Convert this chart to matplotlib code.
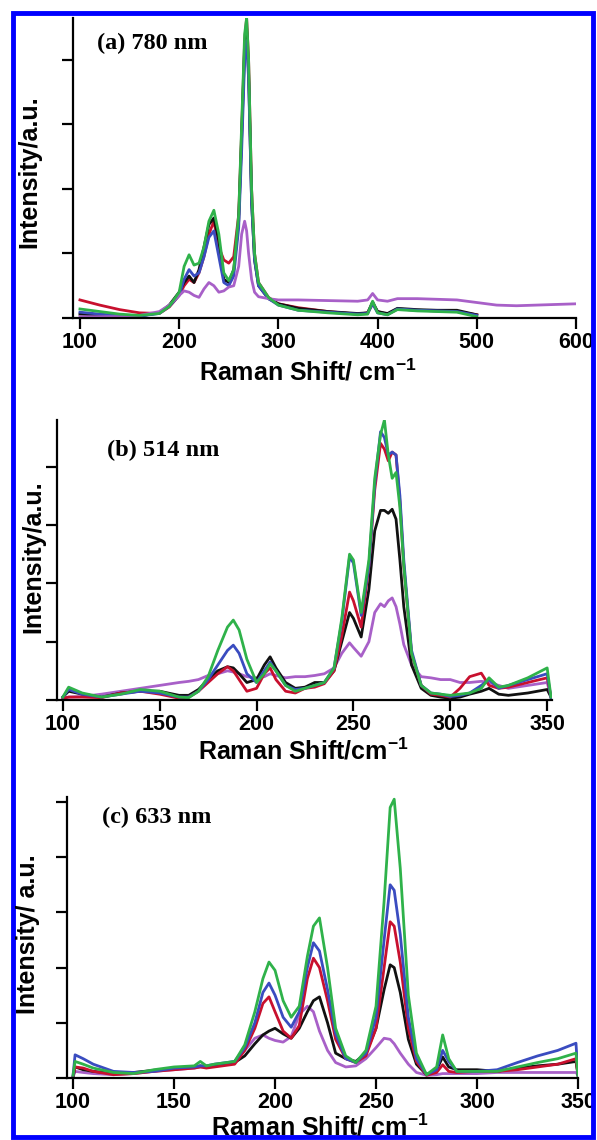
import matplotlib
matplotlib.use("Agg")
import matplotlib.pyplot as plt
from matplotlib.patches import Rectangle

W, H = 597, 1140

plt.rcParams["font.family"] = ["Liberation Sans", "DejaVu Sans"]
plt.rcParams["font.weight"] = "bold"
plt.rcParams["mathtext.fontset"] = "custom"
plt.rcParams["mathtext.bf"] = "Liberation Sans:bold"
plt.rcParams["mathtext.rm"] = "Liberation Sans:bold"

COLORS = {
    "black": "#111111",
    "red": "#c8102e",
    "blue": "#3a4cc0",
    "purple": "#a860c8",
    "green": "#2fb24a",
}

# ---- panel (a) 780 nm ----
x_a = [100, 120, 140, 160, 180, 190, 200, 205, 210, 215, 220, 225, 230, 235, 240, 245,
       250, 255, 260, 263, 266, 268, 270, 273, 276, 280, 290, 300, 320, 350, 380, 390,
       395, 400, 410, 420, 440, 460, 480, 500]
a_black = [0.06, 0.04, 0.03, 0.03, 0.08, 0.2, 0.4, 0.55, 0.65, 0.55, 0.75, 1.1, 1.45, 1.55,
           1.2, 0.6, 0.55, 0.75, 1.5, 2.8, 4.2, 4.5, 3.8, 1.8, 0.9, 0.5, 0.3, 0.22, 0.15,
           0.1, 0.07, 0.08, 0.25, 0.1, 0.07, 0.15, 0.13, 0.12, 0.12, 0.05]
a_red = [0.28, 0.2, 0.13, 0.08, 0.07, 0.17, 0.35, 0.5, 0.6, 0.55, 0.7, 0.95, 1.3, 1.5,
         1.1, 0.9, 0.85, 0.95, 1.6, 2.9, 4.3, 4.65, 4.0, 2.0, 1.0, 0.55, 0.32, 0.22, 0.16,
         0.1, 0.06, 0.08, 0.22, 0.1, 0.06, 0.14, 0.12, 0.11, 0.1, 0.05]
a_blue = [0.09, 0.06, 0.04, 0.03, 0.07, 0.18, 0.35, 0.6, 0.75, 0.65, 0.7, 0.95, 1.25, 1.35,
          0.95, 0.55, 0.5, 0.65, 1.4, 2.6, 4.0, 4.3, 3.7, 1.8, 0.9, 0.5, 0.3, 0.2, 0.12,
          0.09, 0.06, 0.07, 0.22, 0.08, 0.05, 0.14, 0.12, 0.11, 0.1, 0.04]
a_green = [0.14, 0.1, 0.06, 0.04, 0.07, 0.18, 0.4, 0.8, 0.98, 0.82, 0.85, 1.1, 1.5, 1.67,
           1.3, 0.7, 0.58, 0.75, 1.6, 3.0, 4.4, 4.65, 4.0, 2.0, 1.0, 0.55, 0.32, 0.2, 0.12,
           0.08, 0.05, 0.06, 0.26, 0.08, 0.05, 0.13, 0.11, 0.1, 0.09, 0.02]
x_a_purple = x_a + [520, 540, 560, 580, 600]
a_purple = [0.02, 0.02, 0.02, 0.04, 0.1, 0.2, 0.35, 0.42, 0.4, 0.35, 0.32, 0.45, 0.55, 0.5,
            0.4, 0.42, 0.48, 0.5, 0.8, 1.3, 1.5, 1.35, 1.0, 0.6, 0.4, 0.33, 0.3, 0.28, 0.28,
            0.27, 0.26, 0.28, 0.38, 0.28, 0.26, 0.3, 0.3, 0.29, 0.28, 0.24,
            0.2, 0.19, 0.2, 0.21, 0.22]

# ---- panel (b) 514 nm ----
x_b = [100, 103, 110, 120, 130, 140, 150, 160, 165, 170, 175, 180, 185, 188, 191, 195, 200,
       204, 207, 210, 215, 220, 225, 230, 235, 240, 244, 248, 250, 254, 258, 261, 264, 266,
       268, 270, 272, 274, 276, 280, 285, 290, 295, 300, 305, 310, 316, 320, 325, 330, 340,
       350, 352]
b_black = [0.05, 0.15, 0.1, 0.05, 0.12, 0.15, 0.15, 0.08, 0.08, 0.18, 0.35, 0.5, 0.57, 0.55,
           0.45, 0.3, 0.35, 0.6, 0.74, 0.55, 0.3, 0.2, 0.22, 0.3, 0.3, 0.5, 1.0, 1.5, 1.4,
           1.08, 1.9, 2.9, 3.25, 3.25, 3.2, 3.27, 3.1, 2.4, 1.6, 0.6, 0.2, 0.08, 0.05, 0.03,
           0.05, 0.1, 0.15, 0.2, 0.1, 0.08, 0.12, 0.18, 0.05]
b_red = [0.03, 0.05, 0.05, 0.04, 0.12, 0.15, 0.1, 0.03, 0.05, 0.15, 0.3, 0.45, 0.57, 0.5,
         0.35, 0.15, 0.2, 0.45, 0.55, 0.35, 0.15, 0.12, 0.2, 0.22, 0.28, 0.5, 1.1, 1.85, 1.7,
         1.25, 2.3, 3.6, 4.4, 4.3, 4.1, 4.25, 4.2, 3.4, 2.3, 0.8, 0.25, 0.1, 0.08, 0.05, 0.2,
         0.4, 0.46, 0.25, 0.2, 0.22, 0.3, 0.38, 0.05]
b_blue = [0.05, 0.18, 0.1, 0.05, 0.1, 0.15, 0.12, 0.05, 0.05, 0.15, 0.35, 0.6, 0.85, 0.94,
          0.8, 0.45, 0.3, 0.5, 0.65, 0.5, 0.25, 0.18, 0.2, 0.25, 0.3, 0.55, 1.35, 2.45, 2.35,
          1.45, 2.3, 3.7, 4.6, 4.5, 4.2, 4.25, 4.2, 3.5, 2.4, 0.85, 0.25, 0.12, 0.1, 0.06,
          0.08, 0.12, 0.25, 0.35, 0.2, 0.25, 0.35, 0.45, 0.03]
b_purple = [0.02, 0.05, 0.06, 0.1, 0.15, 0.2, 0.25, 0.3, 0.32, 0.35, 0.42, 0.45, 0.5, 0.48,
            0.45, 0.4, 0.38, 0.4, 0.45, 0.42, 0.38, 0.4, 0.4, 0.42, 0.45, 0.55, 0.8, 0.98,
            0.9, 0.75, 1.0, 1.5, 1.65, 1.6, 1.7, 1.75, 1.6, 1.3, 0.95, 0.6, 0.4, 0.38, 0.35,
            0.35, 0.3, 0.3, 0.32, 0.3, 0.25, 0.2, 0.25, 0.3, 0.05]
b_green = [0.05, 0.22, 0.12, 0.05, 0.1, 0.18, 0.15, 0.05, 0.04, 0.15, 0.4, 0.85, 1.25, 1.37,
           1.2, 0.7, 0.3, 0.45, 0.62, 0.5, 0.25, 0.15, 0.2, 0.25, 0.3, 0.55, 1.4, 2.5, 2.4,
           1.5, 2.4, 3.8, 4.55, 4.8, 4.2, 3.8, 3.9, 3.3, 2.3, 0.8, 0.25, 0.12, 0.1, 0.08, 0.1,
           0.12, 0.2, 0.38, 0.22, 0.25, 0.38, 0.55, 0.05]

# ---- panel (c) 633 nm ----
x_c = [100, 101, 105, 110, 120, 130, 140, 150, 160, 163, 166, 170, 180, 185, 190, 194, 197,
       200, 204, 208, 212, 216, 219, 222, 226, 230, 235, 240, 245, 250, 254, 257, 259, 262,
       266, 270, 275, 280, 283, 286, 290, 300, 310, 320, 330, 340, 349, 350]
c_black = [0.02, 0.2, 0.15, 0.12, 0.08, 0.1, 0.14, 0.16, 0.2, 0.22, 0.2, 0.22, 0.28, 0.4,
           0.62, 0.78, 0.85, 0.9, 0.8, 0.72, 0.9, 1.2, 1.4, 1.47, 1.0, 0.45, 0.35, 0.3, 0.45,
           0.9, 1.6, 2.05, 2.0, 1.55, 0.7, 0.25, 0.06, 0.15, 0.38, 0.2, 0.15, 0.15, 0.12,
           0.18, 0.22, 0.25, 0.3, 0.05]
c_red = [0.02, 0.2, 0.18, 0.12, 0.06, 0.08, 0.12, 0.15, 0.18, 0.2, 0.18, 0.2, 0.25, 0.5,
         0.9, 1.35, 1.47, 1.2, 0.85, 0.72, 0.95, 1.8, 2.17, 2.0, 1.4, 0.7, 0.35, 0.28, 0.4,
         0.9, 2.0, 2.83, 2.75, 2.1, 0.9, 0.3, 0.05, 0.1, 0.24, 0.12, 0.1, 0.12, 0.12, 0.15,
         0.2, 0.25, 0.35, 0.05]
c_blue = [0.05, 0.42, 0.35, 0.25, 0.12, 0.1, 0.12, 0.18, 0.2, 0.22, 0.22, 0.25, 0.3, 0.55,
          1.0, 1.55, 1.72, 1.5, 1.1, 0.92, 1.2, 2.0, 2.45, 2.3, 1.6, 0.8, 0.35, 0.28, 0.45,
          1.1, 2.5, 3.5, 3.4, 2.6, 1.1, 0.35, 0.06, 0.15, 0.5, 0.3, 0.12, 0.12, 0.15, 0.28,
          0.4, 0.5, 0.63, 0.05]
c_purple = [0.02, 0.12, 0.1, 0.08, 0.06, 0.08, 0.12, 0.15, 0.18, 0.2, 0.2, 0.22, 0.3, 0.5,
            0.72, 0.78, 0.72, 0.68, 0.65, 0.75, 1.15, 1.3, 1.2, 0.85, 0.5, 0.28, 0.2, 0.22,
            0.35, 0.55, 0.72, 0.7, 0.62, 0.45, 0.25, 0.1, 0.05, 0.06, 0.08, 0.08, 0.08, 0.08,
            0.1, 0.1, 0.1, 0.1, 0.1, 0.05]
c_green = [0.05, 0.3, 0.25, 0.18, 0.1, 0.08, 0.15, 0.2, 0.22, 0.3, 0.22, 0.25, 0.3, 0.6,
           1.2, 1.8, 2.1, 1.95, 1.4, 1.1, 1.3, 2.2, 2.75, 2.9, 2.0, 0.9, 0.4, 0.28, 0.5, 1.3,
           3.2, 4.9, 5.05, 3.8, 1.5, 0.45, 0.06, 0.2, 0.78, 0.35, 0.12, 0.12, 0.12, 0.2, 0.28,
           0.35, 0.45, 0.05]

titles = ["(a) 780 nm", "(b) 514 nm", "(c) 633 nm"]
xlabels = [r"Raman Shift/ cm$^{\mathbf{-1}}$", r"Raman Shift/cm$^{\mathbf{-1}}$",
           r"Raman Shift/ cm$^{\mathbf{-1}}$"]
ylabels = ["Intensity/a.u.", "Intensity/a.u.", "Intensity/ a.u."]
xticks_a = [100, 200, 300, 400, 500, 600]
xticks_bc = [100, 150, 200, 250, 300, 350]


def px_box(left, top, right, bottom):
    return [left / W, 1 - bottom / H, (right - left) / W, (bottom - top) / H]


fig = plt.figure(figsize=(W / 100, H / 100), dpi=100)

panels = [
    dict(box=px_box(73, 18, 576, 318), xlim=(93, 600), ylim=(0, 4.65), yt=range(5),
         xt=xticks_a,
         lines=[(x_a, a_red, "red"), (x_a, a_black, "black"), (x_a, a_blue, "blue"),
                (x_a_purple, a_purple, "purple"), (x_a, a_green, "green")],
         title_xy=(97, 43), xlab_xy=(308, 372), ylab_xy=(29, 172)),
    dict(box=px_box(57, 420, 552, 700), xlim=(97, 352.5), ylim=(0, 4.8), yt=range(5),
         xt=xticks_bc,
         lines=[(x_b, b_purple, "purple"), (x_b, b_black, "black"), (x_b, b_red, "red"),
                (x_b, b_blue, "blue"), (x_b, b_green, "green")],
         title_xy=(107, 450), xlab_xy=(303, 751), ylab_xy=(33, 557)),
    dict(box=px_box(67, 797, 578, 1078), xlim=(97, 350), ylim=(0, 5.09), yt=range(6),
         xt=xticks_bc,
         lines=[(x_c, c_purple, "purple"), (x_c, c_black, "black"), (x_c, c_red, "red"),
                (x_c, c_blue, "blue"), (x_c, c_green, "green")],
         title_xy=(102, 817), xlab_xy=(320, 1127), ylab_xy=(28, 934)),
]

for i, p in enumerate(panels):
    ax = fig.add_axes(p["box"])
    for xs, ys, c in p["lines"]:
        ax.plot(xs, ys, color=COLORS[c], lw=2.0, solid_joinstyle="round")
    ax.set_xlim(*p["xlim"])
    ax.set_ylim(*p["ylim"])
    ax.set_xticks(p["xt"])
    ax.set_yticks(list(p["yt"]))
    ax.set_yticklabels([])
    for s in ["top", "right"]:
        ax.spines[s].set_visible(False)
    for s in ["left", "bottom"]:
        ax.spines[s].set_linewidth(1.6)
    ax.tick_params(direction="out", length=8, width=1.6, pad=2, labelsize=15.5)
    for lab in ax.get_xticklabels():
        lab.set_fontweight("bold")
    tx, ty = p["title_xy"]
    fig.text(tx / W, 1 - ty / H, titles[i], family="Liberation Serif", fontweight="bold",
             fontsize=17.5, ha="left", va="center")
    lx, ly = p["xlab_xy"]
    fig.text(lx / W, 1 - ly / H, xlabels[i], fontsize=18, fontweight="bold",
             ha="center", va="center")
    yx, yy = p["ylab_xy"]
    fig.text(yx / W, 1 - yy / H, ylabels[i], fontsize=18, fontweight="bold",
             ha="center", va="center", rotation=90)

# blue frame around the figure
fig.patches.append(Rectangle((13 / W, 3 / H), 580 / W, 1124 / H, transform=fig.transFigure,
                             fill=False, edgecolor="#0000ff", lw=3.5))

fig.savefig("out.png", dpi=100)
